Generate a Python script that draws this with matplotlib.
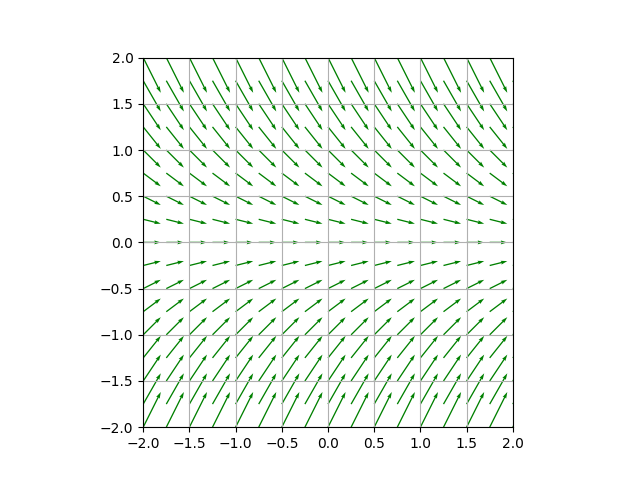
import numpy as np
import matplotlib.pyplot as plt

# sample positions of the slope field
xs = [-2.0, -1.75, -1.5, -1.25, -1.0, -0.75, -0.5, -0.25, 0.0,
      0.25, 0.5, 0.75, 1.0, 1.25, 1.5, 1.75, 2.0]
ys = [-2.0, -1.75, -1.5, -1.25, -1.0, -0.75, -0.5, -0.25, 0.0,
      0.25, 0.5, 0.75, 1.0, 1.25, 1.5, 1.75, 2.0]
# slope read per row (same for every column)
slopes = [2.0, 1.75, 1.5, 1.25, 1.0, 0.75, 0.5, 0.25, 0.0,
          -0.25, -0.5, -0.75, -1.0, -1.25, -1.5, -1.75, -2.0]

X, Y = np.meshgrid(xs, ys)
U = np.ones_like(X)
V = np.tile(np.array(slopes)[:, None], (1, len(xs)))

fig, ax = plt.subplots(figsize=(6.4, 4.8), dpi=100)
ax.quiver(X, Y, U, V, color='g', angles='xy', scale_units='xy', scale=5.25)
ax.set_xlim(-2, 2)
ax.set_ylim(-2, 2)
ax.set_aspect('equal')
ax.grid(True)

plt.savefig('out.png')
